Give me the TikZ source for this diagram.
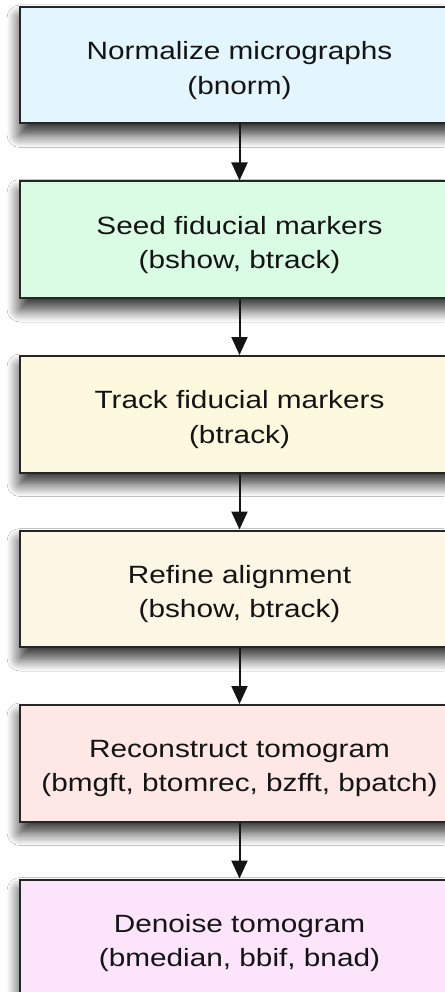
\documentclass[tikz,border=0pt]{standalone}
\usepackage{fontspec}
\setmainfont{Liberation Sans}[FakeStretch=1.19]
\usetikzlibrary{arrows.meta,shadows.blur,calc}
\definecolor{cA}{HTML}{E4F6FD}
\definecolor{cB}{HTML}{DAFBE4}
\definecolor{cC}{HTML}{FCF9DF}
\definecolor{cD}{HTML}{FCF7E5}
\definecolor{cE}{HTML}{FDE8E6}
\definecolor{cF}{HTML}{FCE5FB}
\begin{document}
\begin{tikzpicture}[x=1pt,y=-1pt,
  stepbox/.style={draw=black!85, line width=2pt, minimum width=439pt,
    minimum height=116.5pt, inner sep=0pt,
    blur shadow={shadow xshift=0pt, shadow yshift=-11pt,
      shadow blur radius=13pt, shadow opacity=85, shadow blur steps=12}},
  steptext/.style={align=center, font=\fontsize{25}{34.5}\selectfont,
    inner sep=0pt, text=black!92},
  flow/.style={-{Triangle[length=18pt,width=16pt]}, line width=2pt, black!92}]
\useasboundingbox (0,0) rectangle (444,992);
\fill[white] (0,0) rectangle (444,992);
\node[stepbox, fill=cA] (b1) at (239.5,65.25) {};
\node[stepbox, fill=cB] (b2) at (239.5,239.75) {};
\node[stepbox, fill=cC] (b3) at (239.5,414.25) {};
\node[stepbox, fill=cD] (b4) at (239.5,588.75) {};
\node[stepbox, fill=cE] (b5) at (239.5,763.25) {};
\node[stepbox, fill=cF] (b6) at (239.5,937.75) {};
\node[steptext] (t1) at ($(b1.center)+(0,5.2)$) {Normalize micrographs\\(bnorm)};
\node[steptext] (t2) at ($(b2.center)+(0,5.2)$) {Seed fiducial markers\\(bshow, btrack)};
\node[steptext] (t3) at ($(b3.center)+(0,5.2)$) {Track fiducial markers\\(btrack)};
\node[steptext] (t4) at ($(b4.center)+(0,5.2)$) {Refine alignment\\(bshow, btrack)};
\node[steptext] (t5) at ($(b5.center)+(0,5.2)$) {Reconstruct tomogram\\(bmgft, btomrec, bzfft, bpatch)};
\node[steptext] (t6) at ($(b6.center)+(0,5.2)$) {Denoise tomogram\\(bmedian, bbif, bnad)};
\draw[flow] (b1.south) -- (b2.north);
\draw[flow] (b2.south) -- (b3.north);
\draw[flow] (b3.south) -- (b4.north);
\draw[flow] (b4.south) -- (b5.north);
\draw[flow] (b5.south) -- (b6.north);
\end{tikzpicture}
\end{document}
